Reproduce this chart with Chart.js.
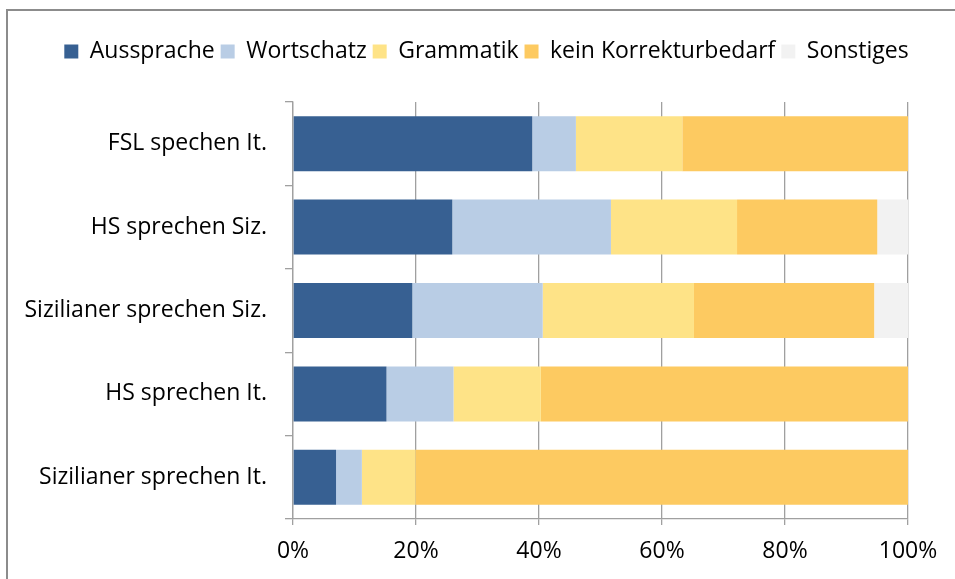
<!DOCTYPE html>
<html>
<head>
<meta charset="utf-8">
<script src="https://cdn.jsdelivr.net/npm/chart.js@4/dist/chart.umd.min.js"></script>
<style>
  html, body { margin: 0; padding: 0; background: #fff; }
  #wrap { width: 955px; height: 579px; position: relative; }
</style>
</head>
<body>
<div id="wrap"><canvas id="c" width="955" height="579"></canvas></div>
<script>
const categories = [
  "FSL spechen It.",
  "HS sprechen Siz.",
  "Sizilianer sprechen Siz.",
  "HS sprechen It.",
  "Sizilianer sprechen It."
];
const seriesNames = ["Aussprache", "Wortschatz", "Grammatik", "kein Korrekturbedarf", "Sonstiges"];
const aussprache = [38.9, 25.9, 19.4, 15.2, 7.0];
const wortschatz = [7.1, 25.8, 21.2, 10.9, 4.2];
const grammatik = [17.3, 20.5, 24.6, 14.2, 8.7];
const keinKorrektur = [36.7, 22.8, 29.3, 59.7, 80.1];
const sonstiges = [0, 5.0, 5.5, 0, 0];
const xTicks = [0, 20, 40, 60, 80, 100];

const colors = ["#376092", "#B9CDE5", "#FEE387", "#FDCA61", "#F2F2F2"];
const seriesValues = [aussprache, wortschatz, grammatik, keinKorrektur, sonstiges];

const FONT = "'Open Sans', sans-serif";
const GRID = "#a0a0a0";

const frame = {
  id: "frame",
  beforeDraw(chart) {
    const ctx = chart.ctx;
    ctx.save();
    ctx.fillStyle = "#fff";
    ctx.fillRect(0, 0, chart.width, chart.height);
    ctx.strokeStyle = "#8c8c8c";
    ctx.lineWidth = 2;
    ctx.strokeRect(7, 10, 2000, 2000);
    ctx.restore();
  }
};

new Chart(document.getElementById("c"), {
  type: "bar",
  data: {
    labels: categories,
    datasets: seriesNames.map((name, i) => ({
      label: name,
      data: seriesValues[i],
      backgroundColor: colors[i],
      borderWidth: 0,
      barPercentage: 0.66,
      categoryPercentage: 1.0
    }))
  },
  options: {
    indexAxis: "y",
    responsive: false,
    animation: false,
    devicePixelRatio: 1,
    layout: { padding: { left: 18, right: 0, top: 34, bottom: 0 } },
    plugins: {
      legend: {
        position: "top",
        labels: {
          boxWidth: 14,
          boxHeight: 14,
          padding: 6,
          color: "#000",
          font: { family: FONT, size: 23 }
        }
      },
      tooltip: { enabled: false }
    },
    scales: {
      x: {
        type: "linear",
        stacked: true,
        min: 0,
        max: 100,
        afterBuildTicks(scale) { scale.ticks = xTicks.map(v => ({ value: v })); },
        ticks: {
          callback: v => v + "%",
          color: "#000",
          padding: 13,
          maxRotation: 0,
          font: { family: FONT, size: 23 }
        },
        grid: { color: GRID, lineWidth: 1.3, tickLength: 6, drawTicks: true },
        border: { color: GRID, width: 1.3 },
        afterFit(s) { s.height = 60; }
      },
      xTop: {
        type: "linear",
        position: "top",
        display: true,
        grid: { display: false },
        ticks: { display: false },
        border: { display: false },
        afterFit(s) { s.height = 29; }
      },
      y: {
        type: "category",
        stacked: true,
        offset: true,
        ticks: {
          color: "#000",
          padding: 18,
          font: { family: FONT, size: 23 }
        },
        grid: { offset: true, drawOnChartArea: false, color: GRID, lineWidth: 1.3, tickLength: 8 },
        border: { color: GRID, width: 1.3 },
        afterFit(s) { s.width = 275; }
      },
      yRight: {
        type: "linear",
        axis: "y",
        position: "right",
        display: true,
        grid: { display: false },
        ticks: { display: false },
        border: { display: false },
        afterFit(s) { s.width = 47; }
      }
    }
  },
  plugins: [frame]
});
</script>
</body>
</html>
